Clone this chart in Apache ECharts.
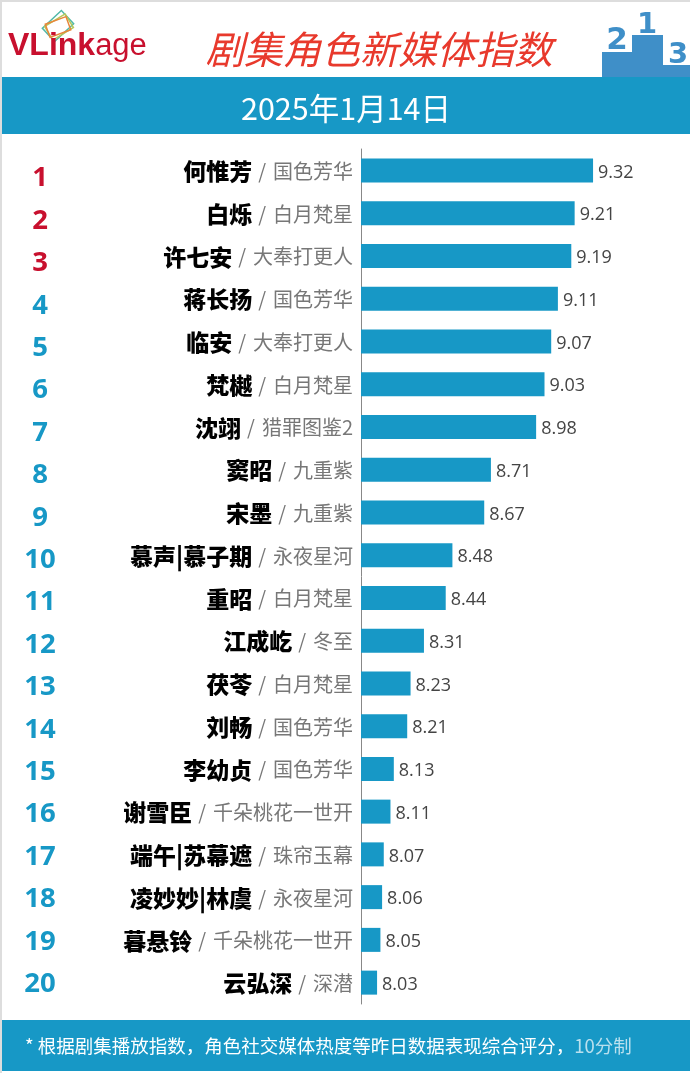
<!DOCTYPE html>
<html>
<head>
<meta charset="utf-8">
<script src="https://cdn.jsdelivr.net/npm/echarts@6/dist/echarts.min.js"></script>
<style>
html,body{margin:0;padding:0;background:#fff;}
#chart{width:690px;height:1073px;}
</style>
</head>
<body>
<div id="chart"></div>
<script>
var names = ['何惟芳','白烁','许七安','蒋长扬','临安','梵樾','沈翊','窦昭','宋墨','慕声|慕子期','重昭','江成屹','茯苓','刘畅','李幼贞','谢雪臣','端午|苏幕遮','凌妙妙|林虞','暮悬铃','云弘深'];
var shows = ['国色芳华','白月梵星','大奉打更人','国色芳华','大奉打更人','白月梵星','猎罪图鉴2','九重紫','九重紫','永夜星河','白月梵星','冬至','白月梵星','国色芳华','国色芳华','千朵桃花一世开','珠帘玉幕','永夜星河','千朵桃花一世开','深潜'];
var values = [9.32,9.21,9.19,9.11,9.07,9.03,8.98,8.71,8.67,8.48,8.44,8.31,8.23,8.21,8.13,8.11,8.07,8.06,8.05,8.03];
var ranks = ['1','2','3','4','5','6','7','8','9','10','11','12','13','14','15','16','17','18','19','20'];

var blue = '#1798c6';
var podium = '#3f8fc8';
var cjk = '"Noto Sans CJK SC","Noto Sans",sans-serif';

var chart = echarts.init(document.getElementById('chart'));

chart.setOption({
  animation: false,
  backgroundColor: '#fff',
  grid: [
    { left: 361, top: 149, width: 329, height: 855 },
    // the rank column runs on a slightly tighter pitch than the bars
    { left: 40, top: 157.3, width: 300, height: 848 }
  ],
  xAxis: [
    { type: 'value', min: 7.934, max: 9.899, show: false },
    { type: 'value', gridIndex: 1, show: false }
  ],
  yAxis: [
    {
      type: 'category',
      inverse: true,
      data: names.map(function (n, i) { return n + '\n' + shows[i]; }),
      axisLine: { show: true, lineStyle: { color: '#888', width: 1 } },
      axisTick: { show: false },
      axisLabel: {
        margin: 8,
        formatter: function (v) {
          var p = v.split('\n');
          return '{name|' + p[0] + '}{sl|/}{show|' + p[1] + '}';
        },
        rich: {
          name: { fontFamily: cjk, fontSize: 23, fontWeight: 900, color: '#000', padding: [2, 0, 0, 0] },
          sl: { fontFamily: cjk, fontSize: 20, color: '#777', padding: [2, 7, 0, 6] },
          show: { fontFamily: cjk, fontSize: 20, color: '#777', padding: [2, 0, 0, 0] }
        }
      }
    },
    {
      type: 'category',
      gridIndex: 1,
      inverse: true,
      data: ranks,
      axisLine: { show: false },
      axisTick: { show: false },
      axisLabel: {
        margin: 0,
        align: 'center',
        fontFamily: '"Open Sans",sans-serif',
        fontSize: 27.5,
        fontWeight: 'bold',
        color: function (v, i) { return i < 3 ? '#c8102e' : blue; }
      }
    }
  ],
  series: [{
    type: 'bar',
    data: values,
    barWidth: 24,
    itemStyle: { color: blue },
    label: {
      show: true,
      position: 'right',
      distance: 5,
      offset: [0, 2],
      formatter: function (p) { return p.value.toFixed(2); },
      fontFamily: '"Open Sans",sans-serif',
      fontSize: 18,
      color: '#444'
    }
  }],
  graphic: [
    // outer edge of the picture
    { type: 'rect', shape: { x: 0, y: 0, width: 690, height: 2 }, style: { fill: '#ddd' } },
    { type: 'rect', shape: { x: 0, y: 0, width: 2, height: 1073 }, style: { fill: '#ddd' } },
    // bands
    { type: 'rect', shape: { x: 2, y: 77, width: 688, height: 57 }, style: { fill: blue } },
    { type: 'rect', shape: { x: 2, y: 1020, width: 688, height: 51 }, style: { fill: blue } },
    { type: 'text', style: { x: 346, y: 108, text: '2025年1月14日', fill: '#fff', font: '30.5px ' + cjk, align: 'center', verticalAlign: 'middle' } },
    {
      type: 'text',
      style: {
        x: 25, y: 1046,
        text: '{t|* 根据剧集播放指数，角色社交媒体热度等昨日数据表现综合评分，}{f|10分制}',
        verticalAlign: 'middle',
        rich: {
          t: { font: '18.5px ' + cjk, fill: '#fff' },
          f: { font: '18.5px ' + cjk, fill: 'rgba(255,255,255,0.7)' }
        }
      }
    },
    // title
    { type: 'text', style: { x: 379, y: 49, text: '剧集角色新媒体指数', fill: '#e8392c', font: 'italic 38.6px ' + cjk, align: 'center', verticalAlign: 'middle' } },
    // logo
    { type: 'rect', x: 58, y: 26, rotation: 0.75, shape: { x: -13, y: -9, width: 26, height: 18 }, style: { fill: 'none', stroke: '#4fb8a8', lineWidth: 1.5 } },
    { type: 'rect', x: 59, y: 27, rotation: 0.55, shape: { x: -12, y: -8, width: 24, height: 16 }, style: { fill: 'none', stroke: '#b5c85a', lineWidth: 1.5 } },
    { type: 'rect', x: 58, y: 27, rotation: 0.35, shape: { x: -11, y: -7, width: 22, height: 14 }, style: { fill: 'none', stroke: '#e8863a', lineWidth: 1.5 } },
    {
      type: 'text',
      style: {
        x: 8, y: 46,
        text: '{b|VLink}{a|age}',
        verticalAlign: 'middle',
        rich: {
          b: { font: 'bold 32px "Liberation Sans",sans-serif', fill: '#c8102e' },
          a: { font: '31px "Liberation Sans",sans-serif', fill: '#c8102e' }
        }
      }
    },
    // podium
    { type: 'rect', shape: { x: 602, y: 52, width: 31, height: 25 }, style: { fill: podium } },
    { type: 'rect', shape: { x: 632, y: 35, width: 31, height: 42 }, style: { fill: podium } },
    { type: 'rect', shape: { x: 663, y: 65, width: 27, height: 12 }, style: { fill: podium } },
    { type: 'text', style: { x: 617, y: 41, text: '2', fill: podium, font: 'bold 31px "DejaVu Sans",sans-serif', align: 'center', verticalAlign: 'middle' } },
    { type: 'text', style: { x: 647, y: 25, text: '1', fill: podium, font: 'bold 29px "DejaVu Sans",sans-serif', align: 'center', verticalAlign: 'middle' } },
    { type: 'text', style: { x: 678, y: 55, text: '3', fill: podium, font: 'bold 29px "DejaVu Sans",sans-serif', align: 'center', verticalAlign: 'middle' } }
  ]
});
</script>
</body>
</html>
